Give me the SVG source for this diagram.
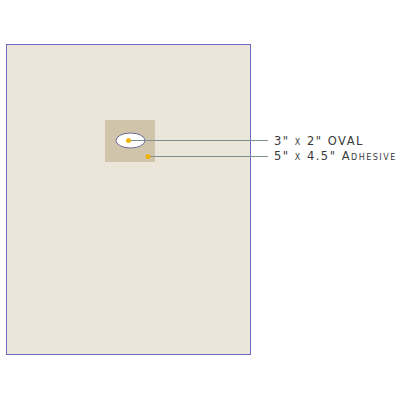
<svg xmlns="http://www.w3.org/2000/svg" width="400" height="400" viewBox="0 0 400 400">
<style>
.lbl{font-family:"DejaVu Sans",sans-serif;font-size:11.5px;fill:#3a3a3a;font-variant:small-caps;letter-spacing:1.5px}
.conn{stroke:#7d9090;stroke-width:1;fill:none}
.dot{fill:#f2b400}
</style>
<rect width="400" height="400" fill="#fff"/>
<g id="page"><rect x="6.5" y="44.5" width="244" height="310" fill="#ece5da" stroke="#6e6bc0" stroke-width="1"/></g>
<g id="adhesive"><rect x="105" y="120" width="50" height="42" fill="#d0c5aa"/></g>
<g id="oval"><ellipse cx="130.5" cy="140.5" rx="14.5" ry="7.5" fill="#fff" stroke="#6e6b99" stroke-width="1"/></g>
<g id="connectors">
<line class="conn" x1="129" y1="140.5" x2="268" y2="140.5"/>
<line class="conn" x1="148" y1="156.5" x2="268" y2="156.5"/>
<circle class="dot" cx="128.5" cy="140.5" r="2.5"/>
<circle class="dot" cx="148" cy="156.5" r="2.5"/>
</g>
<g id="labels">
<text class="lbl" x="274" y="145">3" x 2" OVAL</text>
<text class="lbl" x="274" y="160">5" x 4.5" Adhesive</text>
</g>
</svg>
